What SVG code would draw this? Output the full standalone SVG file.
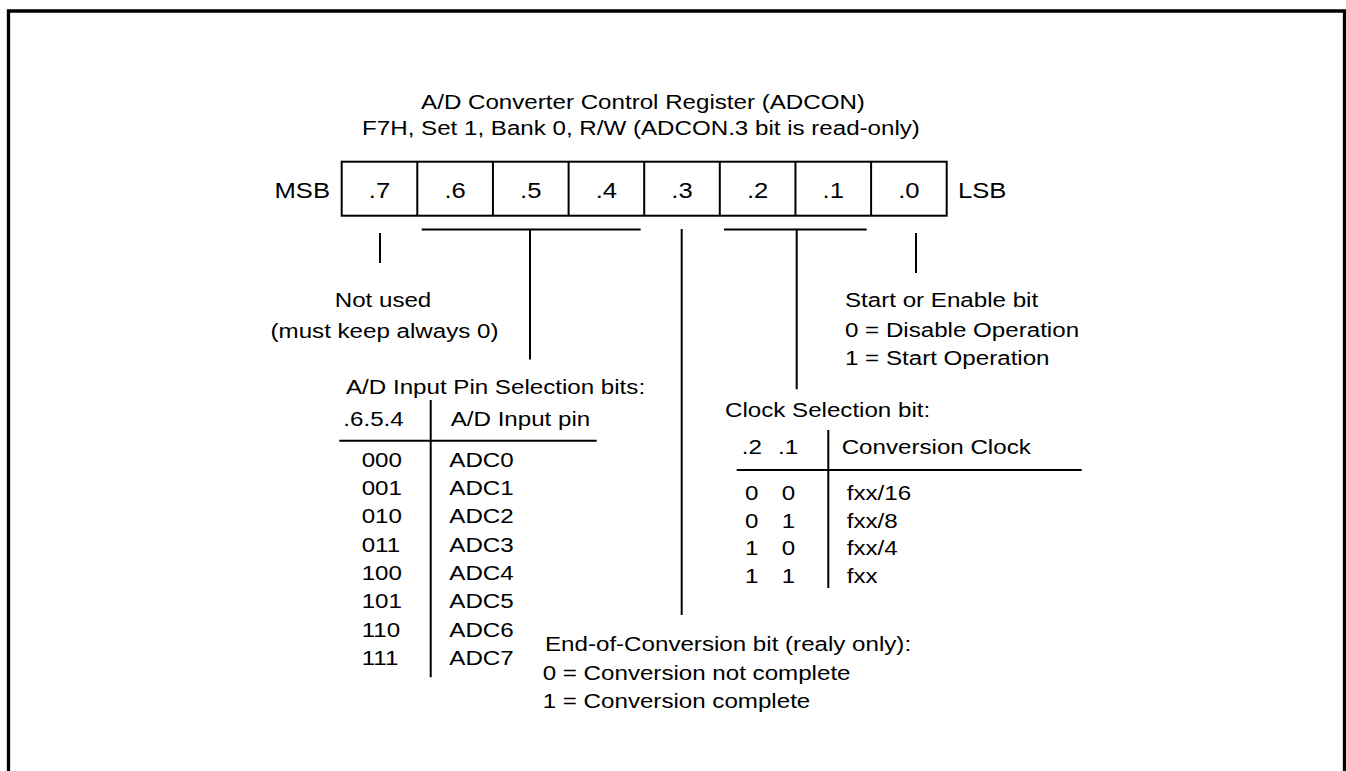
<svg xmlns="http://www.w3.org/2000/svg" width="1346" height="771" viewBox="0 0 1346 771">
<style>
.t{font-family:"Liberation Sans",Arial,Helvetica,sans-serif;font-size:21px;fill:#000}
.r{font-size:22.5px}
.m{text-anchor:middle}
.e{text-anchor:end}
.ln{stroke:#000;stroke-width:2;fill:none}
</style>
<rect x="0" y="0" width="1346" height="771" fill="#fff"/>
<path id="border" d="M8.5,800 V11 H1344.5 V800" fill="none" stroke="#000" stroke-width="3.3"/>

<g id="title">
<text class="t m" transform="translate(643,108.5) scale(1.15,1)">A/D Converter Control Register (ADCON)</text>
<text class="t m" transform="translate(641,134.5) scale(1.15,1)">F7H, Set 1, Bank 0, R/W (ADCON.3 bit is read-only)</text>
</g>

<g id="register">
<rect class="ln" x="341.7" y="161.7" width="605" height="54"/>
<path class="ln" d="M417.3,161.7V215.7M492.95,161.7V215.7M568.6,161.7V215.7M644.2,161.7V215.7M719.8,161.7V215.7M795.45,161.7V215.7M871.1,161.7V215.7"/>
<text class="t r e" transform="translate(330,198) scale(1.14,1)">MSB</text>
<text class="t r" transform="translate(958,198) scale(1.14,1)">LSB</text>
<text class="t r m" transform="translate(379.5,198) scale(1.14,1)">.7</text>
<text class="t r m" transform="translate(455.1,198) scale(1.14,1)">.6</text>
<text class="t r m" transform="translate(530.8,198) scale(1.14,1)">.5</text>
<text class="t r m" transform="translate(606.4,198) scale(1.14,1)">.4</text>
<text class="t r m" transform="translate(682,198) scale(1.14,1)">.3</text>
<text class="t r m" transform="translate(757.6,198) scale(1.14,1)">.2</text>
<text class="t r m" transform="translate(833.3,198) scale(1.14,1)">.1</text>
<text class="t r m" transform="translate(908.9,198) scale(1.14,1)">.0</text>
</g>

<g id="connectors">
<path class="ln" d="M380,233V263"/>
<path class="ln" d="M421.7,229.5H640.7M530,229.5V359.5"/>
<path class="ln" d="M681.7,229V615"/>
<path class="ln" d="M724,229.5H866.7M796.7,229.5V389.3"/>
<path class="ln" d="M916,233V273"/>
</g>

<g id="not-used">
<text class="t m" transform="translate(383,307) scale(1.15,1)">Not used</text>
<text class="t m" transform="translate(384.5,338) scale(1.15,1)">(must keep always 0)</text>
</g>

<g id="pin-select">
<text class="t" transform="translate(346,394) scale(1.15,1)">A/D Input Pin Selection bits:</text>
<text class="t" transform="translate(343.3,426) scale(1.15,1)">.6.5.4</text>
<text class="t" transform="translate(450.7,426) scale(1.15,1)">A/D Input pin</text>
<path class="ln" d="M430.7,400V677.3M339.3,440.7H596.7"/>
<text class="t" transform="translate(361.7,466.7) scale(1.15,1)">000</text>
<text class="t" transform="translate(361.7,495) scale(1.15,1)">001</text>
<text class="t" transform="translate(361.7,523.3) scale(1.15,1)">010</text>
<text class="t" transform="translate(361.7,551.6) scale(1.15,1)">011</text>
<text class="t" transform="translate(361.7,579.9) scale(1.15,1)">100</text>
<text class="t" transform="translate(361.7,608.2) scale(1.15,1)">101</text>
<text class="t" transform="translate(361.7,636.5) scale(1.15,1)">110</text>
<text class="t" transform="translate(361.7,664.8) scale(1.15,1)">111</text>
<text class="t" transform="translate(449.3,466.7) scale(1.15,1)">ADC0</text>
<text class="t" transform="translate(449.3,495) scale(1.15,1)">ADC1</text>
<text class="t" transform="translate(449.3,523.3) scale(1.15,1)">ADC2</text>
<text class="t" transform="translate(449.3,551.6) scale(1.15,1)">ADC3</text>
<text class="t" transform="translate(449.3,579.9) scale(1.15,1)">ADC4</text>
<text class="t" transform="translate(449.3,608.2) scale(1.15,1)">ADC5</text>
<text class="t" transform="translate(449.3,636.5) scale(1.15,1)">ADC6</text>
<text class="t" transform="translate(449.3,664.8) scale(1.15,1)">ADC7</text>
</g>

<g id="eoc">
<text class="t" transform="translate(545,650.5) scale(1.15,1)">End-of-Conversion bit (realy only):</text>
<text class="t" transform="translate(542.7,679.5) scale(1.15,1)">0 = Conversion not complete</text>
<text class="t" transform="translate(542.7,708) scale(1.15,1)">1 = Conversion complete</text>
</g>

<g id="clock-select">
<text class="t" transform="translate(725,416.5) scale(1.15,1)">Clock Selection bit:</text>
<text class="t" transform="translate(741.7,454) scale(1.15,1)">.2</text>
<text class="t" transform="translate(778,454) scale(1.15,1)">.1</text>
<text class="t" transform="translate(841.7,454) scale(1.15,1)">Conversion Clock</text>
<path class="ln" d="M828.3,430V588M736.7,470H1081.7"/>
<text class="t" transform="translate(745,500) scale(1.15,1)">0</text>
<text class="t" transform="translate(781.7,500) scale(1.15,1)">0</text>
<text class="t" transform="translate(846.7,500) scale(1.15,1)">fxx/16</text>
<text class="t" transform="translate(745,527.7) scale(1.15,1)">0</text>
<text class="t" transform="translate(781.7,527.7) scale(1.15,1)">1</text>
<text class="t" transform="translate(846.7,527.7) scale(1.15,1)">fxx/8</text>
<text class="t" transform="translate(745,555.3) scale(1.15,1)">1</text>
<text class="t" transform="translate(781.7,555.3) scale(1.15,1)">0</text>
<text class="t" transform="translate(846.7,555.3) scale(1.15,1)">fxx/4</text>
<text class="t" transform="translate(745,583) scale(1.15,1)">1</text>
<text class="t" transform="translate(781.7,583) scale(1.15,1)">1</text>
<text class="t" transform="translate(846.7,583) scale(1.15,1)">fxx</text>
</g>

<g id="start-enable">
<text class="t" transform="translate(845,307.3) scale(1.15,1)">Start or Enable bit</text>
<text class="t" transform="translate(845,336.7) scale(1.15,1)">0 = Disable Operation</text>
<text class="t" transform="translate(845,365) scale(1.15,1)">1 = Start Operation</text>
</g>
</svg>
